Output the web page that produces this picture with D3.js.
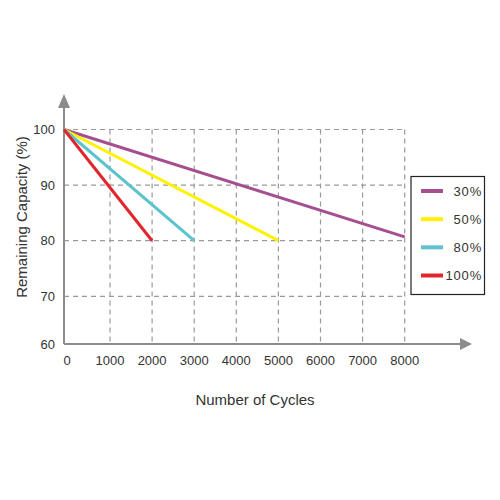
<!DOCTYPE html>
<html>
<head>
<meta charset="utf-8">
<script src="https://cdn.jsdelivr.net/npm/d3@7"></script>
<style>
  html, body { margin: 0; padding: 0; background: #fff; }
  svg { display: block; font-family: "Liberation Sans", Arial, sans-serif; }
</style>
</head>
<body>
<svg id="chart" width="500" height="500"></svg>
<script>
// ---- data ----
const seriesNames = ["30%", "50%", "80%", "100%"];
const seriesColors = ["#a64f90", "#fff200", "#5cc3cc", "#e2242b"];
const cycles30 = [0, 8000];
const capacity30 = [100, 80.7];
const cycles50 = [0, 5000];
const capacity50 = [100, 80];
const cycles80 = [0, 3000];
const capacity80 = [100, 80];
const cycles100 = [0, 2000];
const capacity100 = [100, 80];
const xTicks = [0, 1000, 2000, 3000, 4000, 5000, 6000, 7000, 8000];
const yTicks = [60, 70, 80, 90, 100];
const xTitle = "Number of Cycles";
const yTitle = "Remaining Capacity (%)";

const series = [
  { name: seriesNames[0], color: seriesColors[0], xs: cycles30, ys: capacity30 },
  { name: seriesNames[1], color: seriesColors[1], xs: cycles50, ys: capacity50 },
  { name: seriesNames[2], color: seriesColors[2], xs: cycles80, ys: capacity80 },
  { name: seriesNames[3], color: seriesColors[3], xs: cycles100, ys: capacity100 }
];

// ---- scales (piecewise to match the drawing) ----
const x = d3.scaleLinear().domain([0, 1000, 8000]).range([64, 110, 404.7]);
const y = d3.scaleLinear().domain([60, 70, 100]).range([344, 296.3, 129.5]);

const svg = d3.select("#chart");
const axisColor = "#8c8c8c";
const gridColor = "#9a9a9a";
const textColor = "#333";

// grid
const grid = svg.append("g");
grid.selectAll("line.h").data(yTicks.filter(v => v > 60)).enter().append("line")
  .attr("x1", x(0)).attr("x2", x(8000))
  .attr("y1", d => y(d)).attr("y2", d => y(d))
  .attr("stroke", gridColor).attr("stroke-width", 1.2).attr("stroke-dasharray", "5,4");
grid.selectAll("line.v").data(xTicks.filter(v => v > 0)).enter().append("line")
  .attr("x1", d => x(d)).attr("x2", d => x(d))
  .attr("y1", y(100)).attr("y2", y(60))
  .attr("stroke", gridColor).attr("stroke-width", 1.2).attr("stroke-dasharray", "5,4");

// axes with arrows
svg.append("line").attr("x1", x(0)).attr("x2", x(0)).attr("y1", y(60)).attr("y2", 106)
  .attr("stroke", axisColor).attr("stroke-width", 2);
svg.append("path").attr("d", `M${x(0) - 6},108 L${x(0)},94 L${x(0) + 6},108 Z`).attr("fill", axisColor);
svg.append("line").attr("x1", x(0)).attr("x2", 462).attr("y1", y(60)).attr("y2", y(60))
  .attr("stroke", axisColor).attr("stroke-width", 2);
svg.append("path").attr("d", `M460,${y(60) - 6} L472,${y(60)} L460,${y(60) + 6} Z`).attr("fill", axisColor);

// tick labels
svg.append("g").selectAll("text").data(yTicks).enter().append("text")
  .attr("x", 55).attr("y", d => y(d)).attr("dy", "0.35em")
  .attr("text-anchor", "end").attr("font-size", 13).attr("fill", textColor)
  .text(d => d);
svg.append("g").selectAll("text").data(xTicks).enter().append("text")
  .attr("x", d => x(d) + (d === 0 ? 3 : 0)).attr("y", 360).attr("dy", "0.35em")
  .attr("text-anchor", "middle").attr("font-size", 13).attr("fill", textColor)
  .text(d => d);

// titles
svg.append("text").attr("x", 255).attr("y", 400).attr("dy", "0.35em")
  .attr("text-anchor", "middle").attr("font-size", 15).attr("fill", textColor).text(xTitle);
svg.append("text").attr("transform", "translate(22,217) rotate(-90)").attr("dy", "0.35em")
  .attr("text-anchor", "middle").attr("font-size", 15).attr("fill", textColor).text(yTitle);

// lines
const line = d3.line().x(d => x(d[0])).y(d => y(d[1]));
svg.append("g").selectAll("path").data(series).enter().append("path")
  .attr("d", s => line(s.xs.map((v, i) => [v, s.ys[i]])))
  .attr("fill", "none").attr("stroke", s => s.color).attr("stroke-width", 3);

// legend
const lg = svg.append("g");
lg.append("rect").attr("x", 411).attr("y", 176.5).attr("width", 73.5).attr("height", 118)
  .attr("fill", "#fff").attr("stroke", "#222").attr("stroke-width", 1.2);
const rowY = d3.scalePoint().domain(seriesNames).range([191, 275.5]);
const items = lg.selectAll("g").data(series).enter().append("g");
items.append("line").attr("x1", 421).attr("x2", 443)
  .attr("y1", s => rowY(s.name)).attr("y2", s => rowY(s.name))
  .attr("stroke", s => s.color).attr("stroke-width", 4);
items.append("text").attr("x", 482).attr("y", s => rowY(s.name)).attr("dy", "0.35em")
  .attr("text-anchor", "end").attr("font-size", 13).attr("letter-spacing", 0.8).attr("fill", textColor)
  .text(s => s.name);
</script>
</body>
</html>
